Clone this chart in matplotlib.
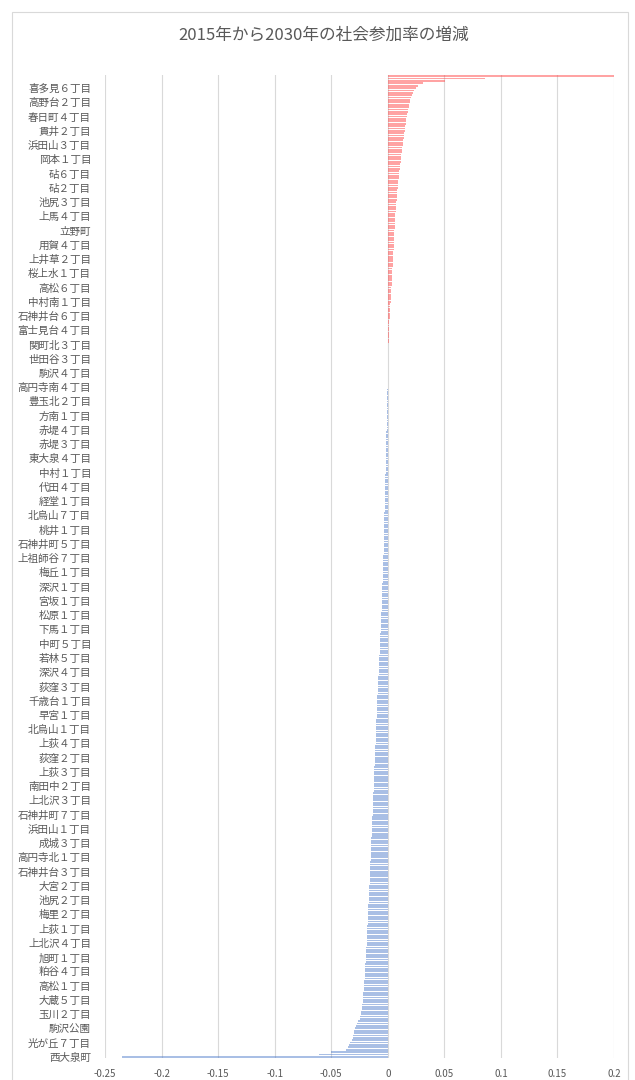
import matplotlib.pyplot as plt
from matplotlib.patches import Rectangle
import numpy as np

plt.rcParams['font.family'] = ['Noto Sans CJK JP', 'DejaVu Sans']

title = '2015年から2030年の社会参加率の増減'

# shown category names, bottom to top (every 6th district)
labels = ['西大泉町', '光が丘７丁目', '駒沢公園', '玉川２丁目', '大蔵５丁目', '高松１丁目',
          '粕谷４丁目', '旭町１丁目', '上北沢４丁目', '上荻１丁目', '梅里２丁目', '池尻２丁目',
          '大宮２丁目', '石神井台３丁目', '高円寺北１丁目', '成城３丁目', '浜田山１丁目',
          '石神井町７丁目', '上北沢３丁目', '南田中２丁目', '上荻３丁目', '荻窪２丁目',
          '上荻４丁目', '北烏山１丁目', '早宮１丁目', '千歳台１丁目', '荻窪３丁目',
          '深沢４丁目', '若林５丁目', '中町５丁目', '下馬１丁目', '松原１丁目', '宮坂１丁目',
          '深沢１丁目', '梅丘１丁目', '上祖師谷７丁目', '石神井町５丁目', '桃井１丁目',
          '北烏山７丁目', '経堂１丁目', '代田４丁目', '中村１丁目', '東大泉４丁目',
          '赤堤３丁目', '赤堤４丁目', '方南１丁目', '豊玉北２丁目', '高円寺南４丁目',
          '駒沢４丁目', '世田谷３丁目', '関町北３丁目', '富士見台４丁目', '石神井台６丁目',
          '中村南１丁目', '高松６丁目', '桜上水１丁目', '上井草２丁目', '用賀４丁目', '立野町',
          '上馬４丁目', '池尻３丁目', '砧２丁目', '砧６丁目', '岡本１丁目', '浜田山３丁目',
          '貫井２丁目', '春日町４丁目', '高野台２丁目', '喜多見６丁目']

# districts with a falling rate, sorted ascending
decline = [
    -0.235, -0.061, -0.050, -0.037, -0.035, -0.034, -0.033, -0.032, -0.031, -0.0305,
    -0.030, -0.0295, -0.029, -0.028, -0.027, -0.026, -0.025, -0.0245, -0.024, -0.0235,
    -0.023, -0.0227, -0.0224, -0.0222, -0.0220,
    -0.0218, -0.0216, -0.0215, -0.0213, -0.0211, -0.0210, -0.0208, -0.0207, -0.0205,
    -0.0204, -0.0202, -0.0201, -0.0199, -0.0198,
    -0.0197, -0.0196, -0.0195, -0.0194, -0.0193, -0.0192, -0.0191, -0.0189, -0.0188,
    -0.0187, -0.0186, -0.0185, -0.0184, -0.0183, -0.0182, -0.0181, -0.0180, -0.0179,
    -0.0178, -0.0177, -0.0176, -0.0175, -0.0174, -0.0173, -0.0172, -0.0171, -0.0170,
    -0.0168,
    -0.0167, -0.0166, -0.0165, -0.0164, -0.0163, -0.0162, -0.0161, -0.0160, -0.0159,
    -0.0158, -0.0157, -0.0156, -0.0155, -0.0155, -0.0154, -0.0153, -0.0152, -0.0151,
    -0.0150, -0.0149, -0.0148, -0.0147, -0.0146, -0.0146, -0.0145, -0.0144, -0.0143,
    -0.0142,
    -0.0141, -0.0140, -0.0139, -0.0138, -0.0137, -0.0137, -0.0136, -0.0135, -0.0134,
    -0.0133, -0.0132, -0.0131, -0.0130, -0.0130, -0.0129, -0.0128, -0.0127, -0.0126,
    -0.0125, -0.0124, -0.0123, -0.0123, -0.0122, -0.0121, -0.0120, -0.0119, -0.0119,
    -0.0118,
    -0.0117, -0.0116, -0.0115, -0.0114, -0.0113, -0.0112, -0.0111, -0.0110, -0.0109,
    -0.0108, -0.0108, -0.0107, -0.0106, -0.0105, -0.0104, -0.0103, -0.0102, -0.0101,
    -0.0101, -0.0100, -0.0099, -0.0098, -0.0098, -0.0097,
    -0.0096, -0.0095, -0.0094, -0.0093, -0.0092, -0.0091, -0.0090, -0.0089, -0.0088,
    -0.0087, -0.0086, -0.0085, -0.0084, -0.0083, -0.0082, -0.0081, -0.0080, -0.0079,
    -0.0078, -0.0077, -0.0076, -0.0075, -0.0074, -0.0073, -0.0072, -0.0071, -0.0070,
    -0.0069, -0.0068, -0.0067, -0.0066, -0.0065, -0.0064, -0.0063, -0.0062, -0.0061,
    -0.0059,
    -0.0058, -0.0057, -0.0056, -0.0056, -0.0055, -0.0054, -0.0053, -0.0053, -0.0052,
    -0.0051, -0.0050, -0.0050, -0.0049, -0.0048, -0.0047, -0.0047, -0.0046, -0.0045,
    -0.0044, -0.0044, -0.0043, -0.0042, -0.0041, -0.0041, -0.0040, -0.0039, -0.0039,
    -0.0038,
    -0.0037, -0.0037, -0.0036, -0.0036, -0.0035, -0.0035, -0.0034, -0.0034, -0.0033,
    -0.0033, -0.0032, -0.0032, -0.0031, -0.0031, -0.0030, -0.0030, -0.0029, -0.0029,
    -0.0028, -0.0028, -0.0027, -0.0027, -0.0026, -0.0026, -0.0025, -0.0025, -0.0024,
    -0.0024,
    -0.0023, -0.0023, -0.0022, -0.0022, -0.0021, -0.0021, -0.0020, -0.0020, -0.0019,
    -0.0019, -0.0018, -0.0018, -0.0017, -0.0017, -0.0016, -0.0016, -0.0015, -0.0015,
    -0.0014, -0.0014, -0.0013, -0.0013, -0.0012, -0.0012, -0.0011, -0.0011, -0.0010,
    -0.0010, -0.0009, -0.0009, -0.0008, -0.0008, -0.0007, -0.0007, -0.0006, -0.0006,
    -0.0005, -0.0005, -0.0004, -0.0004, -0.0003, -0.0003, -0.0002, -0.0002, -0.0001,
    -0.0001, -0.0001, -0.0001,
]

# districts with a rising rate, sorted ascending
increase = [
    0.0001, 0.0001, 0.0001, 0.0002, 0.0002, 0.0002, 0.0003, 0.0003, 0.0003,
    0.0004, 0.0005, 0.0006, 0.0006, 0.0007, 0.0008, 0.0009, 0.0010, 0.0010,
    0.0011, 0.0012, 0.0013, 0.0014, 0.0015,
    0.0016, 0.0017, 0.0019, 0.0020, 0.0021, 0.0022, 0.0024, 0.0025, 0.0026,
    0.0027, 0.0029, 0.0030, 0.0031, 0.0032,
    0.0033, 0.0034, 0.0035, 0.0037, 0.0038, 0.0039, 0.0040, 0.0041, 0.0043,
    0.0044, 0.0045, 0.0046, 0.0047, 0.0049, 0.0050,
    0.0051, 0.0052, 0.0053, 0.0054, 0.0055, 0.0056, 0.0057, 0.0058, 0.0059,
    0.0060, 0.0061, 0.0062, 0.0064, 0.0065,
    0.0067, 0.0068, 0.0070, 0.0071, 0.0073, 0.0075, 0.0076, 0.0078, 0.0079,
    0.0081, 0.0083, 0.0084, 0.0086, 0.0088,
    0.0090, 0.0093, 0.0095, 0.0098, 0.0100, 0.0103, 0.0105, 0.0108, 0.0110,
    0.0113, 0.0116, 0.0118, 0.0121, 0.0124,
    0.0127, 0.0130, 0.0132, 0.0135, 0.0137, 0.0140, 0.0142, 0.0145, 0.0148,
    0.0151, 0.0154, 0.0157, 0.0160, 0.0164, 0.0168, 0.0172, 0.0176, 0.0180,
    0.0185, 0.0190, 0.0195, 0.0200, 0.0205, 0.0215, 0.0220, 0.0230, 0.0250,
    0.027, 0.031, 0.051, 0.086, 0.200,
]

xticks = [-0.25, -0.2, -0.15, -0.1, -0.05, 0, 0.05, 0.1, 0.15, 0.2]
xtick_labels = ['-0.25', '-0.2', '-0.15', '-0.1', '-0.05', '0', '0.05', '0.1', '0.15', '0.2']

values = np.array(decline + increase)
pos = np.arange(len(values))
colors = np.where(values >= 0, '#FF4848', '#5580CC')

fig = plt.figure(figsize=(6.35, 10.8), dpi=100)
ax = fig.add_axes([105 / 635, 1 - 1058 / 1080, 509 / 635, 983 / 1080])

ax.barh(pos, values, height=0.75, color=colors, alpha=0.5, linewidth=0)

ax.set_xlim(-0.25, 0.2)
ax.set_ylim(-0.5, len(values) - 0.5)
ax.set_xticks(xticks)
ax.set_xticklabels(xtick_labels)
ax.set_yticks(pos[::6][:len(labels)])
ax.set_yticklabels(labels)

ax.grid(axis='x', color='#D9D9D9', linewidth=0.8)
ax.set_axisbelow(True)
for spine in ax.spines.values():
    spine.set_visible(False)
ax.tick_params(axis='y', length=0, pad=10, labelsize=7.6, labelcolor='#595959')
ax.tick_params(axis='x', length=0, pad=8, labelsize=7, labelcolor='#595959')

fig.text(0.51, 1 - 35 / 1080, title, ha='center', va='center',
         fontsize=12, color='#595959')

# chart frame
fig.patches.append(Rectangle((12 / 635, -0.01), 616 / 635, 1 - 12 / 1080 + 0.01,
                             transform=fig.transFigure, fill=False,
                             edgecolor='#D9D9D9', linewidth=0.8))

fig.savefig('out.png', dpi=100)
